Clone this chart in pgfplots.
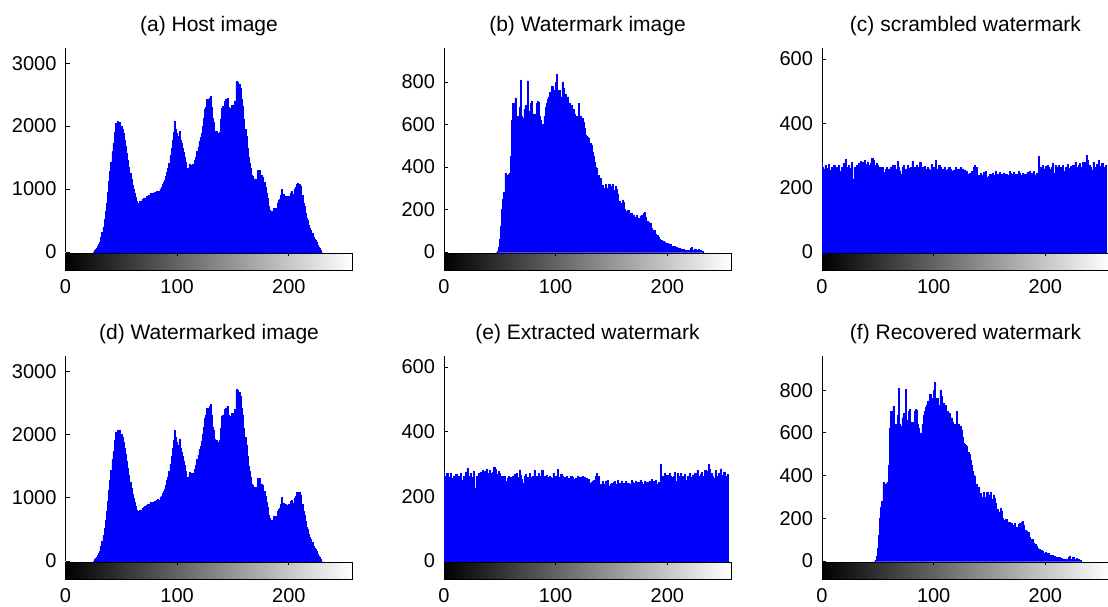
\documentclass[border=0pt]{standalone}
\usepackage{fontspec}
\setmainfont{Liberation Sans}
\usepackage{pgfplots}
\usepackage{pgfplotstable}
\pgfplotsset{compat=1.18}

% (a)/(d) host and watermarked image histogram
\pgfplotstableread[row sep=\\]{
x y\\
25 0\\ 26 20\\ 27 40\\ 28 60\\ 29 90\\ 30 120\\ 31 160\\ 32 230\\ 33 310\\ 34 400\\
35 520\\ 36 650\\ 37 780\\ 38 950\\ 39 1120\\ 40 1280\\ 41 1430\\ 42 1600\\ 43 1730\\ 44 1900\\
45 2040\\ 46 1990\\ 47 2070\\ 48 2050\\ 49 2060\\ 50 2000\\ 51 1950\\ 52 1880\\ 53 1780\\ 54 1680\\
55 1570\\ 56 1460\\ 57 1350\\ 58 1250\\ 59 1150\\ 60 1060\\ 61 990\\ 62 930\\ 63 870\\ 64 800\\
65 770\\ 66 780\\ 67 800\\ 68 790\\ 69 830\\ 70 850\\ 71 860\\ 72 860\\ 73 880\\ 74 890\\
75 900\\ 76 930\\ 77 920\\ 78 930\\ 79 920\\ 80 950\\ 81 940\\ 82 960\\ 83 970\\ 84 960\\
85 1000\\ 86 1030\\ 87 1070\\ 88 1100\\ 89 1140\\ 90 1200\\ 91 1270\\ 92 1330\\ 93 1410\\ 94 1530\\
95 1650\\ 96 1780\\ 97 1900\\ 98 2070\\ 99 1950\\ 100 1880\\ 101 1830\\ 102 1920\\ 103 1780\\ 104 1720\\
105 1650\\ 106 1580\\ 107 1510\\ 108 1420\\ 109 1320\\ 110 1330\\ 111 1400\\ 112 1320\\ 113 1380\\ 114 1390\\
115 1330\\ 116 1450\\ 117 1510\\ 118 1600\\ 119 1670\\ 120 1760\\ 121 1820\\ 122 1890\\ 123 2000\\ 124 2120\\
125 2260\\ 126 2300\\ 127 2420\\ 128 2300\\ 129 2440\\ 130 2470\\ 131 2300\\ 132 2120\\ 133 2060\\ 134 1920\\
135 1910\\ 136 1880\\ 137 1880\\ 138 1900\\ 139 2100\\ 140 2280\\ 141 2310\\ 142 2250\\ 143 2400\\ 144 2420\\
145 2440\\ 146 2300\\ 147 2200\\ 148 2280\\ 149 2330\\ 150 2310\\ 151 2330\\ 152 2400\\ 153 2710\\ 154 2700\\
155 2650\\ 156 2660\\ 157 2600\\ 158 2420\\ 159 2310\\ 160 2100\\ 161 1950\\ 162 1830\\ 163 1650\\ 164 1500\\
165 1410\\ 166 1330\\ 167 1220\\ 168 1200\\ 169 1150\\ 170 1160\\ 171 1140\\ 172 1300\\ 173 1250\\ 174 1300\\
175 1200\\ 176 1220\\ 177 1190\\ 178 1100\\ 179 1020\\ 180 930\\ 181 850\\ 182 720\\ 183 670\\ 184 640\\
185 650\\ 186 640\\ 187 700\\ 188 680\\ 189 700\\ 190 780\\ 191 820\\ 192 830\\ 193 900\\ 194 1000\\
195 920\\ 196 880\\ 197 890\\ 198 840\\ 199 880\\ 200 890\\ 201 860\\ 202 940\\ 203 960\\ 204 920\\
205 990\\ 206 1020\\ 207 1080\\ 208 1090\\ 209 1000\\ 210 1080\\ 211 1040\\ 212 900\\ 213 780\\ 214 730\\
215 620\\ 216 540\\ 217 500\\ 218 430\\ 219 370\\ 220 340\\ 221 290\\ 222 240\\ 223 200\\ 224 180\\
225 150\\ 226 110\\ 227 80\\ 228 60\\ 229 30\\ 230 0\\
}\hostdata

% (b)/(f) watermark and recovered watermark histogram
\pgfplotstableread[row sep=\\]{
x y\\
47 0\\ 48 5\\ 49 20\\ 50 60\\ 51 120\\ 52 200\\ 53 250\\ 54 280\\
55 370\\ 56 360\\ 57 355\\ 58 365\\ 59 370\\ 60 450\\ 61 620\\ 62 700\\ 63 620\\ 64 725\\
65 630\\ 66 640\\ 67 620\\ 68 680\\ 69 810\\ 70 640\\ 71 630\\ 72 670\\ 73 690\\ 74 650\\
75 805\\ 76 660\\ 77 610\\ 78 700\\ 79 710\\ 80 650\\ 81 600\\ 82 650\\ 83 700\\ 84 710\\
85 705\\ 86 640\\ 87 620\\ 88 600\\ 89 585\\ 90 640\\ 91 680\\ 92 700\\ 93 720\\ 94 730\\
95 750\\ 96 740\\ 97 780\\ 98 760\\ 99 740\\ 100 800\\ 101 835\\ 102 760\\ 103 740\\ 104 760\\
105 730\\ 106 800\\ 107 770\\ 108 740\\ 109 740\\ 110 720\\ 111 730\\ 112 700\\ 113 700\\ 114 690\\
115 670\\ 116 670\\ 117 650\\ 118 640\\ 119 640\\ 120 630\\ 121 700\\ 122 640\\ 123 620\\ 124 630\\
125 610\\ 126 580\\ 127 550\\ 128 545\\ 129 540\\ 130 535\\ 131 510\\ 132 500\\ 133 470\\ 134 450\\
135 420\\ 136 400\\ 137 395\\ 138 290\\ 139 360\\ 140 345\\ 141 310\\ 142 315\\ 143 300\\ 144 300\\
145 320\\ 146 300\\ 147 295\\ 148 320\\ 149 305\\ 150 310\\ 151 320\\ 152 290\\ 153 285\\ 154 310\\
155 295\\ 156 270\\ 157 240\\ 158 225\\ 159 230\\ 160 245\\ 161 235\\ 162 200\\ 163 190\\ 164 180\\
165 195\\ 166 180\\ 167 175\\ 168 180\\ 169 170\\ 170 175\\ 171 165\\ 172 160\\ 173 175\\ 174 160\\
175 155\\ 176 170\\ 177 175\\ 178 170\\ 179 180\\ 180 185\\ 181 165\\ 182 145\\ 183 140\\ 184 130\\
185 135\\ 186 110\\ 187 100\\ 188 95\\ 189 100\\ 190 85\\ 191 80\\ 192 70\\ 193 60\\ 194 55\\
195 55\\ 196 45\\ 197 50\\ 198 45\\ 199 35\\ 200 40\\ 201 35\\ 202 30\\ 203 35\\ 204 25\\
205 28\\ 206 22\\ 207 25\\ 208 20\\ 209 18\\ 210 15\\ 211 17\\ 212 12\\ 213 15\\ 214 10\\
215 12\\ 216 8\\ 217 10\\ 218 7\\ 219 6\\ 220 8\\ 221 18\\ 222 20\\ 223 8\\ 224 5\\
225 15\\ 226 6\\ 227 4\\ 228 14\\ 229 5\\ 230 8\\ 231 4\\ 232 2\\ 233 0\\
}\wmdata

% (c)/(e) scrambled and extracted watermark histogram
\pgfplotstableread[row sep=\\]{
x y\\
0 280\\ 1 262\\ 2 258\\ 3 270\\ 4 248\\ 5 260\\ 6 272\\ 7 255\\ 8 238\\ 9 262\\
10 252\\ 11 268\\ 12 245\\ 13 262\\ 14 257\\ 15 270\\ 16 250\\ 17 246\\ 18 262\\ 19 258\\
20 275\\ 21 288\\ 22 262\\ 23 252\\ 24 270\\ 25 248\\ 26 260\\ 27 278\\ 28 226\\ 29 262\\
30 255\\ 31 270\\ 32 265\\ 33 275\\ 34 268\\ 35 282\\ 36 260\\ 37 278\\ 38 285\\ 39 272\\
40 265\\ 41 280\\ 42 270\\ 43 262\\ 44 275\\ 45 290\\ 46 285\\ 47 268\\ 48 262\\ 49 276\\
50 270\\ 51 255\\ 52 262\\ 53 250\\ 54 262\\ 55 248\\ 56 240\\ 57 256\\ 58 262\\ 59 245\\
60 258\\ 61 250\\ 62 262\\ 63 268\\ 64 255\\ 65 270\\ 66 248\\ 67 258\\ 68 282\\ 69 264\\
70 252\\ 71 240\\ 72 262\\ 73 268\\ 74 255\\ 75 258\\ 76 246\\ 77 270\\ 78 260\\ 79 250\\
80 262\\ 81 282\\ 82 255\\ 83 262\\ 84 248\\ 85 270\\ 86 260\\ 87 262\\ 88 280\\ 89 255\\
90 262\\ 91 245\\ 92 266\\ 93 258\\ 94 252\\ 95 262\\ 96 258\\ 97 255\\ 98 272\\ 99 262\\
100 255\\ 101 262\\ 102 284\\ 103 258\\ 104 250\\ 105 268\\ 106 262\\ 107 256\\ 108 258\\ 109 250\\
110 262\\ 111 255\\ 112 248\\ 113 256\\ 114 262\\ 115 258\\ 116 248\\ 117 252\\ 118 255\\ 119 240\\
120 262\\ 121 255\\ 122 258\\ 123 250\\ 124 262\\ 125 248\\ 126 258\\ 127 250\\ 128 255\\ 129 244\\
130 252\\ 131 240\\ 132 244\\ 133 245\\ 134 250\\ 135 238\\ 136 262\\ 137 270\\ 138 214\\ 139 262\\
140 238\\ 141 235\\ 142 245\\ 143 232\\ 144 238\\ 145 248\\ 146 240\\ 147 250\\ 148 232\\ 149 236\\
150 240\\ 151 228\\ 152 242\\ 153 245\\ 154 238\\ 155 232\\ 156 250\\ 157 240\\ 158 236\\ 159 248\\
160 238\\ 161 240\\ 162 232\\ 163 246\\ 164 236\\ 165 240\\ 166 232\\ 167 238\\ 168 250\\ 169 244\\
170 240\\ 171 232\\ 172 248\\ 173 238\\ 174 242\\ 175 236\\ 176 250\\ 177 244\\ 178 238\\ 179 232\\
180 245\\ 181 238\\ 182 242\\ 183 236\\ 184 248\\ 185 240\\ 186 252\\ 187 238\\ 188 246\\ 189 242\\
190 250\\ 191 238\\ 192 244\\ 193 236\\ 194 298\\ 195 212\\ 196 262\\ 197 250\\ 198 270\\ 199 258\\
200 265\\ 201 252\\ 202 270\\ 203 262\\ 204 248\\ 205 258\\ 206 262\\ 207 275\\ 208 245\\ 209 270\\
210 255\\ 211 262\\ 212 270\\ 213 248\\ 214 262\\ 215 258\\ 216 268\\ 217 250\\ 218 262\\ 219 255\\
220 272\\ 221 260\\ 222 248\\ 223 266\\ 224 262\\ 225 270\\ 226 255\\ 227 280\\ 228 262\\ 229 258\\
230 268\\ 231 275\\ 232 258\\ 233 262\\ 234 280\\ 235 250\\ 236 278\\ 237 300\\ 238 284\\ 239 262\\
240 270\\ 241 262\\ 242 255\\ 243 280\\ 244 262\\ 245 250\\ 246 272\\ 247 262\\ 248 285\\ 249 265\\
250 258\\ 251 275\\ 252 262\\ 253 252\\ 254 268\\ 255 230\\
}\scrdata

\pgfplotsset{
  hist/.style={
    scale only axis, width=143.5pt, anchor=north west,
    xmin=0, xmax=257, ymin=0,
    axis x line=none, axis y line*=left,
    axis line style={-, black, line width=0.5pt},
    tick align=inside, major tick length=2pt,
    tick style={black, line width=0.4pt},
    scaled y ticks=false,
    /pgf/number format/1000 sep={},
    /pgf/number format/assume math mode=true,
    yticklabel style={font=\fontsize{10}{12}\selectfont, xshift=-1pt},
    title style={at={(0.5,1)}, anchor=base, yshift=2.5pt, font=\fontsize{10.5}{12}\selectfont},
    clip=false,
    point meta min=0, point meta max=257,
    colormap/blackwhite,
    colorbar horizontal,
    colorbar style={
      at={(parent axis.south west)}, anchor=north west, yshift=8pt,
      scale only axis, width=143.5pt, height=8.5pt,
      xmin=0, xmax=257,
      xtick={0,100,200},
      xtick pos=upper, xticklabel pos=lower,
      tick align=inside, major tick length=1.5pt,
      ytick=\empty,
      axis line style={black, line width=0.5pt},
      /pgf/number format/assume math mode=true,
      xticklabel style={font=\fontsize{10}{12}\selectfont, yshift=-1pt},
    },
  },
  histplot/.style={draw=blue, fill=blue, line width=0.3pt, const plot mark mid},
}

\begin{document}
\begin{tikzpicture}
\path[use as bounding box] (0pt,0pt) rectangle (554pt,-303pt);

% (a)
\begin{axis}[hist, at={(32.75pt,-24pt)}, height=102pt, ymax=3240,
  ytick={0,1000,2000,3000}, title={(a) Host image}]
\addplot[histplot] table[x=x,y=y]{\hostdata} \closedcycle;
\end{axis}

% (b)
\begin{axis}[hist, at={(222pt,-24pt)}, height=102pt, ymax=960,
  ytick={0,200,400,600,800}, title={(b) Watermark image}]
\addplot[histplot] table[x=x,y=y]{\wmdata} \closedcycle;
\end{axis}

% (c)
\begin{axis}[hist, at={(411pt,-24pt)}, height=102pt, ymax=634,
  ytick={0,200,400,600}, title={(c) scrambled watermark}]
\addplot[histplot] table[x=x,y=y]{\scrdata} \closedcycle;
\end{axis}

% (d)
\begin{axis}[hist, at={(32.75pt,-178pt)}, height=102.5pt, ymax=3240,
  ytick={0,1000,2000,3000}, title={(d) Watermarked image}]
\addplot[histplot] table[x=x,y=y]{\hostdata} \closedcycle;
\end{axis}

% (e)
\begin{axis}[hist, at={(222pt,-178pt)}, height=102.5pt, ymax=634,
  ytick={0,200,400,600}, title={(e) Extracted watermark}]
\addplot[histplot] table[x=x,y=y]{\scrdata} \closedcycle;
\end{axis}

% (f)
\begin{axis}[hist, at={(411pt,-178pt)}, height=102.5pt, ymax=960,
  ytick={0,200,400,600,800}, title={(f) Recovered watermark}]
\addplot[histplot] table[x=x,y=y]{\wmdata} \closedcycle;
\end{axis}
\end{tikzpicture}
\end{document}
